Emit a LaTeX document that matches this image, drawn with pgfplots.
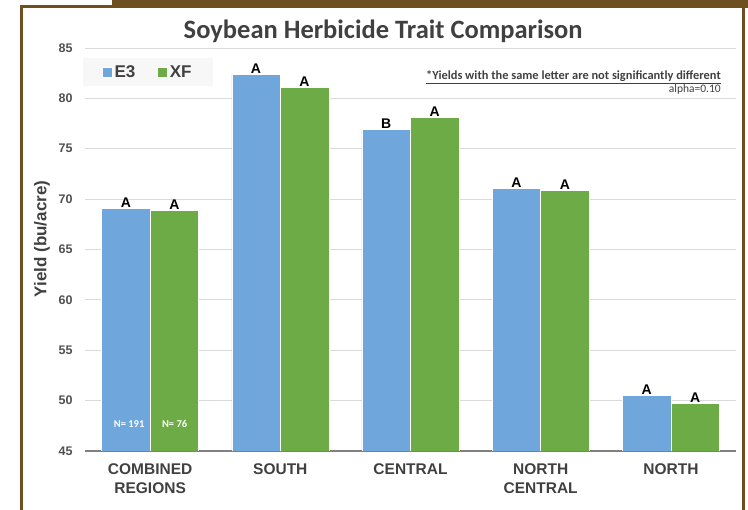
\documentclass[border=0pt]{standalone}
\usepackage{fontspec}
\setmainfont{Liberation Sans}
\newfontfamily\carlito{Carlito}
\usepackage{pgfplots}
\pgfplotsset{compat=1.18}
\definecolor{e3blue}{HTML}{6FA7DC}
\definecolor{xfgreen}{HTML}{6CAB45}
\definecolor{framebrown}{HTML}{6E5020}
\definecolor{txtgrey}{HTML}{404040}
\definecolor{tickgrey}{HTML}{505050}
\definecolor{gridgrey}{HTML}{DADADA}
\begin{document}
\begin{tikzpicture}
\path[use as bounding box] (0pt,0pt) rectangle (748pt,510pt);
% frame
\fill[framebrown] (112pt,502pt) rectangle (748pt,510pt);
\fill[framebrown] (20pt,502pt) rectangle (745pt,505pt);
\fill[framebrown] (20pt,0pt) rectangle (23pt,505pt);
\fill[framebrown] (742pt,0pt) rectangle (745pt,505pt);
\begin{axis}[
  at={(85pt,59pt)}, anchor=south west,
  scale only axis, width=651pt, height=403pt,
  ymin=45, ymax=85, ytick={45,50,...,85},
  xmin=-0.5, xmax=4.5, xtick={0,1,2,3,4},
  xticklabels={{COMBINED\\REGIONS},SOUTH,CENTRAL,{NORTH\\CENTRAL},NORTH},
  xticklabel style={align=center, font=\fontsize{15.5}{19}\selectfont\bfseries, text=txtgrey, yshift=-9pt},
  yticklabel style={font=\fontsize{12.5}{13}\selectfont\bfseries, text=tickgrey, xshift=-9pt},
  /pgf/number format/assume math mode=true,
  axis x line*=bottom, axis y line*=left,
  y axis line style={draw=none},
  x axis line style={draw=gray, line width=1.6pt},
  major tick length=0pt,
  ymajorgrids, grid style={gridgrey, line width=0.8pt},
  ylabel={Yield (bu/acre)},
  ylabel style={at={(axis description cs:-0.066,0.526)}, anchor=center, font=\fontsize{17}{19}\selectfont\bfseries, text=txtgrey},
  title={\carlito\bfseries Soybean Herbicide Trait Comparison},
  title style={at={(axis description cs:0.458,1.027)}, anchor=center, font=\fontsize{26.5}{28}\selectfont, text=txtgrey},
  ybar=0pt, bar width=48.5pt,
  point meta=explicit symbolic,
  nodes near coords,
  nodes near coords style={anchor=south, inner sep=0.5pt, font=\fontsize{14}{15}\selectfont\bfseries, text=black},
  legend columns=2,
  legend style={at={(axis description cs:-0.003,0.975)}, anchor=north west, fill=black!3, draw=none,
    font=\fontsize{17}{19}\selectfont\bfseries, text=txtgrey, inner xsep=19pt, inner ysep=5pt,
    /tikz/every even column/.append style={column sep=20pt}},
  legend image code/.code={\fill[#1] (0pt,-5pt) rectangle (10pt,5pt);},
]
\addplot[fill=e3blue, draw=white, line width=0.4pt] coordinates {
  (0,69.1) [A] (1,82.4) [A] (2,76.9) [B] (3,71.1) [A] (4,50.5) [A]};
\addplot[fill=xfgreen, draw=white, line width=0.4pt] coordinates {
  (0,68.9) [A] (1,81.1) [A] (2,78.1) [A] (3,70.9) [A] (4,49.7) [A]};
\legend{E3,XF}
\node[font=\carlito\fontsize{10.5}{11}\selectfont\bfseries, text=white] at (axis cs:0,47.7) [xshift=-21pt] {N= 191};
\node[font=\carlito\fontsize{10.5}{11}\selectfont\bfseries, text=white] at (axis cs:0,47.7) [xshift=24.5pt] {N= 76};
\node[anchor=base east, font=\carlito\fontsize{12.4}{13}\selectfont\bfseries, text=txtgrey] at (axis cs:4.41,81.9) {\underline{*Yields with the same letter are not significantly different}};
\node[anchor=base east, font=\carlito\fontsize{11.5}{12}\selectfont, text=txtgrey] at (axis cs:4.41,80.55) {alpha=0.10};
\end{axis}
\end{tikzpicture}
\end{document}
